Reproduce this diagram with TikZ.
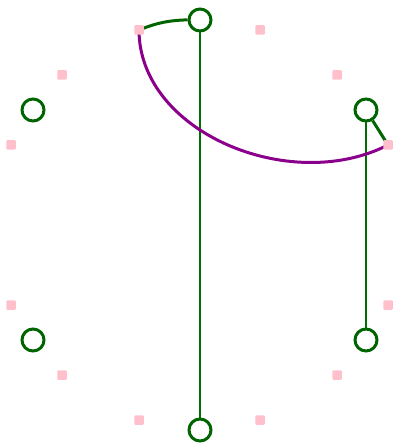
\documentclass[tikz,border=0pt]{standalone}
\begin{document}
\begin{tikzpicture}[x=1pt,y=-1pt,
  ring/.style={circle,draw={rgb,255:red,0;green,100;blue,0},line width=3pt,minimum size=22pt,inner sep=0pt},
  dot/.style={rectangle,rounded corners=1pt,fill={rgb,255:red,255;green,192;blue,203},minimum size=9.5pt,inner sep=0pt},
  thin/.style={draw={rgb,255:red,0;green,110;blue,0},line width=2pt},
  thickg/.style={draw={rgb,255:red,0;green,100;blue,0},line width=3pt},
  thickp/.style={draw={rgb,255:red,139;green,0;blue,139},line width=3pt}]
\useasboundingbox (0,0) rectangle (393,443);
% circles
\node[ring] (c1) at (200,20) {};
\node[ring] (c2) at (33,110) {};
\node[ring] (c3) at (366,110) {};
\node[ring] (c4) at (33,340) {};
\node[ring] (c5) at (366,340) {};
\node[ring] (c6) at (200,430) {};
% connectors
\draw[thin] (c1) -- (c6);
\draw[thin] (c3) -- (c5);
\coordinate (s1c) at (139,30);
\coordinate (s4c) at (388,145);
\draw[thickp] (s1c) .. controls (139,132) and (290,195) .. (s4c);
\draw[thickg] (s1c) to[bend left=10] (c1);
\draw[thickg] (c3) -- (s4c);
% squares
\node[dot] (s1) at (139,30) {};
\node[dot] (s2) at (260,30) {};
\node[dot] (s3) at (62,75) {};
\node[dot] (s5) at (337,75) {};
\node[dot] (s6) at (11,145) {};
\node[dot] (s4) at (388,145) {};
\node[dot] (s7) at (11,305) {};
\node[dot] (s8) at (388,305) {};
\node[dot] (s9) at (62,375) {};
\node[dot] (s10) at (337,375) {};
\node[dot] (s11) at (139,420) {};
\node[dot] (s12) at (260,420) {};
\end{tikzpicture}
\end{document}
